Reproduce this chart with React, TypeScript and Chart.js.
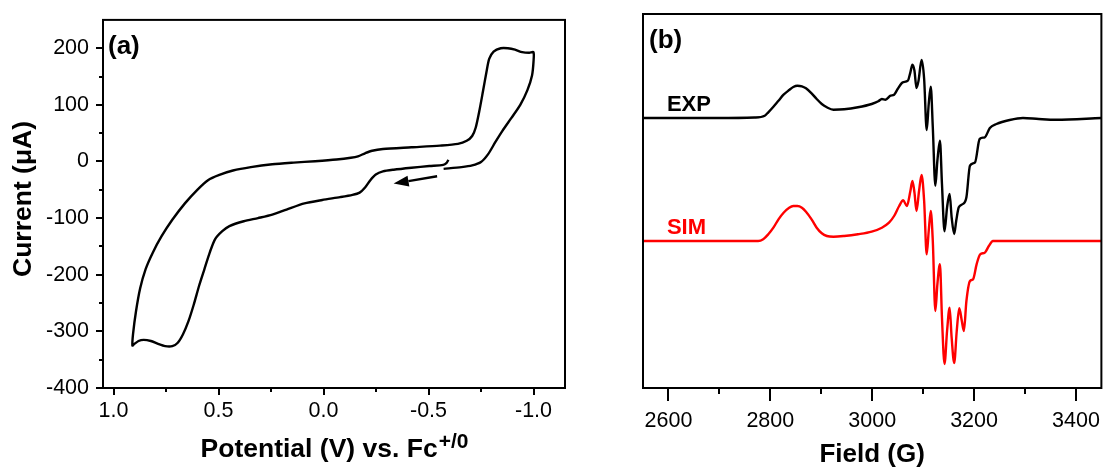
import React, { useEffect, useRef } from "react";
import { Chart, registerables } from "chart.js";

Chart.register(...registerables);

// ---------- Panel (a): cyclic voltammogram ----------
const CV_POTENTIAL = [
  -0.595, -0.585, -0.57, -0.504, -0.419, -0.334, -0.283, -0.249, -0.223, -0.198,
  -0.172, -0.138, -0.079, 0.006, 0.091, 0.176, 0.244, 0.312, 0.38, 0.448,
  0.482, 0.516, 0.541, 0.567, 0.592, 0.618, 0.643, 0.669, 0.694, 0.72,
  0.754, 0.788, 0.822, 0.856, 0.881, 0.903, 0.91,
  0.907, 0.893, 0.873, 0.847, 0.813, 0.771, 0.72, 0.66, 0.601, 0.55,
  0.499, 0.431, 0.346, 0.244, 0.142, 0.04, -0.062, -0.13, -0.164, -0.198,
  -0.232, -0.283, -0.419, -0.555, -0.64, -0.682, -0.708, -0.725, -0.742, -0.759,
  -0.776, -0.789, -0.81, -0.844, -0.878, -0.912, -0.946, -0.98, -1.0,
  -1.0, -0.993, -0.971, -0.937, -0.895, -0.852, -0.818, -0.784, -0.75, -0.708,
  -0.657, -0.572,
];
const CV_CURRENT = [
  3, -3, -6, -8, -11, -14.5, -17.5, -23, -33, -46,
  -55, -59, -63, -68, -74, -85, -94, -100, -105.5, -114,
  -123, -137, -160, -190, -219, -253, -282, -305, -320, -326,
  -326, -322, -317, -315, -317, -323, -325,
  -305, -265, -224, -190, -161, -132, -103, -74, -50, -33,
  -24, -16, -10, -5, -2, 0.5, 3.5, 6.5, 9, 14.5,
  19, 22, 25, 28, 31, 36.5, 45, 60, 89, 123,
  158, 181, 194, 200, 200, 197.5, 193, 192, 193,
  176, 152, 126, 100, 77, 54, 34, 13, -1, -7,
  -10, -13,
];
const CV_MINOR_X = [0.75, 0.25, -0.25, -0.75];
const CV_MINOR_Y = [150, 50, -50, -150, -250, -350];
const CV_ARROW_FROM = { x: -0.541, y: -26 };
const CV_ARROW_TO = { x: -0.334, y: -39 };
const CV_Y_TITLE = "Current (μA)";
const CV_X_TITLE = "Potential (V) vs. Fc";
const CV_X_TITLE_SUP = "+/0";

// ---------- Panel (b): EPR spectra ----------
const FIELD_EXP = [
  2550, 2695, 2769, 2789, 2796, 2806, 2816, 2826, 2837, 2845,
  2853, 2862, 2870, 2881, 2891, 2901, 2911, 2924, 2945, 2972,
  2999, 3012, 3019, 3026, 3036, 3043, 3050, 3060, 3070, 3075,
  3079, 3083, 3087, 3091, 3097, 3102, 3107, 3111, 3115, 3119,
  3124, 3128, 3133, 3137, 3142, 3147, 3152, 3156, 3161, 3165,
  3170, 3178, 3185, 3192, 3202, 3211, 3221, 3231, 3244, 3270,
  3296, 3327, 3361, 3450,
];
const INT_EXP = [
  0, 0, 0.5, 2.3, 5.7, 11.3, 17.3, 23.3, 28, 31,
  32.3, 31.7, 29.7, 24.7, 19, 14, 10.7, 8.3, 8.7, 10.7,
  14, 16.7, 19, 18.3, 22.3, 23.3, 29, 35.7, 37.3, 45.7,
  53.3, 47.3, 30, 37.3, 58, 39, -12, 14, 31.3, -9.3,
  -67.7, -42.7, -22.7, -66, -113.3, -89.3, -76, -99.3, -116, -102.7,
  -89.3, -86, -79.3, -47.7, -44.3, -21, -19.3, -10, -6, -2,
  0, -1, -1.7, 0,
];
const FIELD_SIM = [
  2550, 2776, 2786, 2796, 2806, 2816, 2826, 2837, 2845, 2853,
  2862, 2870, 2881, 2891, 2901, 2911, 2924, 2945, 2972, 2999,
  3019, 3033, 3043, 3053, 3061, 3068, 3075, 3079, 3083, 3087,
  3092, 3097, 3102, 3107, 3111, 3115, 3119, 3124, 3128, 3133,
  3137, 3142, 3147, 3152, 3156, 3161, 3166, 3171, 3176, 3180,
  3185, 3192, 3198, 3205, 3212, 3221, 3229, 3237, 3450,
];
const INT_SIM = [
  0, 0, 1.7, 6.7, 13.3, 21.7, 28.3, 33.3, 35, 35,
  33.3, 29.3, 21.7, 13.3, 7.7, 5, 4.3, 5, 6.7, 9.3,
  13.3, 18.3, 25, 35, 40.7, 35, 50, 60, 48.3, 30,
  50, 66, 40, -13.3, 10, 30, 0, -70, -43.3, -23.3,
  -76.7, -123, -90, -66.7, -96.7, -122, -90, -67.3, -80, -90,
  -60, -40, -38.3, -23.3, -13.3, -11.7, -5, 0, 0,
];
const EXP_OFFSET = 270;
const SIM_OFFSET = 147;
const EPR_MINOR_X = [2700, 2900, 3100, 3300];
const SERIES_LABELS = ["EXP", "SIM"];
const LABEL_FIELD = 2597;

const FONT = '"Liberation Sans", Arial, sans-serif';
const LINE_W = 2.4;

function zip(xs: number[], ys: number[], off = 0) {
  const n = Math.min(xs.length, ys.length);
  const out: { x: number; y: number }[] = [];
  for (let i = 0; i < n; i++) out.push({ x: xs[i], y: ys[i] + off });
  return out;
}

function drawFrameAndMinor(chart: any, minorX: number[], minorY: number[], minorLen: number) {
  const { ctx, chartArea: a } = chart;
  const sx = chart.scales.x;
  const sy = chart.scales.y;
  ctx.save();
  ctx.strokeStyle = "#000";
  ctx.lineWidth = 2;
  ctx.strokeRect(a.left, a.top, a.right - a.left, a.bottom - a.top);
  ctx.beginPath();
  for (const v of minorX) {
    const px = Math.round(sx.getPixelForValue(v));
    ctx.moveTo(px, a.bottom);
    ctx.lineTo(px, a.bottom + minorLen);
  }
  for (const v of minorY) {
    const py = Math.round(sy.getPixelForValue(v));
    ctx.moveTo(a.left, py);
    ctx.lineTo(a.left - minorLen, py);
  }
  ctx.stroke();
  ctx.restore();
}

const cvPlugin = {
  id: "cvDecor",
  afterDraw(chart: any) {
    const { ctx, chartArea: a } = chart;
    const sx = chart.scales.x;
    const sy = chart.scales.y;
    drawFrameAndMinor(chart, CV_MINOR_X, CV_MINOR_Y, 4);
    ctx.save();
    // arrow
    const x1 = sx.getPixelForValue(CV_ARROW_FROM.x);
    const y1 = sy.getPixelForValue(CV_ARROW_FROM.y);
    const x2 = sx.getPixelForValue(CV_ARROW_TO.x);
    const y2 = sy.getPixelForValue(CV_ARROW_TO.y);
    const ang = Math.atan2(y2 - y1, x2 - x1);
    const hl = 15;
    const hw = 5.5;
    const bx = x2 - hl * Math.cos(ang);
    const by = y2 - hl * Math.sin(ang);
    ctx.strokeStyle = "#000";
    ctx.fillStyle = "#000";
    ctx.lineWidth = LINE_W;
    ctx.beginPath();
    ctx.moveTo(x1, y1);
    ctx.lineTo(bx, by);
    ctx.stroke();
    ctx.beginPath();
    ctx.moveTo(x2, y2);
    ctx.lineTo(bx + hw * Math.sin(ang), by - hw * Math.cos(ang));
    ctx.lineTo(bx - hw * Math.sin(ang), by + hw * Math.cos(ang));
    ctx.closePath();
    ctx.fill();
    // panel label
    ctx.font = `bold 26px ${FONT}`;
    ctx.textAlign = "left";
    ctx.textBaseline = "alphabetic";
    ctx.fillText("(a)", a.left + 5, a.top + 34);
    // x title with superscript
    ctx.font = `bold 26.5px ${FONT}`;
    const w1 = ctx.measureText(CV_X_TITLE).width;
    ctx.font = `bold 21px ${FONT}`;
    const w2 = ctx.measureText(CV_X_TITLE_SUP).width;
    const cx = (a.left + a.right) / 2;
    const x0 = cx - (w1 + w2) / 2;
    ctx.font = `bold 26.5px ${FONT}`;
    ctx.fillText(CV_X_TITLE, x0, chart.height - 15);
    ctx.font = `bold 21px ${FONT}`;
    ctx.fillText(CV_X_TITLE_SUP, x0 + w1 + 1, chart.height - 24);
    // y title (rotated)
    ctx.translate(24, (a.top + a.bottom) / 2 - 5);
    ctx.rotate(-Math.PI / 2);
    ctx.textAlign = "center";
    ctx.textBaseline = "middle";
    ctx.font = `bold 26.5px ${FONT}`;
    ctx.fillText(CV_Y_TITLE, 0, 0);
    ctx.restore();
  },
};

const eprPlugin = {
  id: "eprDecor",
  afterDraw(chart: any) {
    const { ctx, chartArea: a } = chart;
    const sx = chart.scales.x;
    const sy = chart.scales.y;
    drawFrameAndMinor(chart, EPR_MINOR_X, [], 6);
    ctx.save();
    ctx.textAlign = "left";
    ctx.textBaseline = "alphabetic";
    ctx.font = `bold 26px ${FONT}`;
    ctx.fillStyle = "#000";
    ctx.fillText("(b)", a.left + 6, a.top + 34);
    ctx.font = `bold 22px ${FONT}`;
    const lx = sx.getPixelForValue(LABEL_FIELD);
    ctx.fillStyle = "#000";
    ctx.fillText(SERIES_LABELS[0], lx, sy.getPixelForValue(EXP_OFFSET) - 7);
    ctx.fillStyle = "#ff0000";
    ctx.fillText(SERIES_LABELS[1], lx, sy.getPixelForValue(SIM_OFFSET) - 7);
    ctx.restore();
  },
};

function CVChart() {
  const ref = useRef<HTMLCanvasElement | null>(null);
  useEffect(() => {
    if (!ref.current) return;
    const chart = new Chart(ref.current, {
      type: "scatter",
      data: {
        datasets: [
          {
            data: zip(CV_POTENTIAL, CV_CURRENT),
            showLine: true,
            borderColor: "#000",
            borderWidth: LINE_W,
            pointRadius: 0,
            tension: 0.25,
            fill: false,
          },
        ],
      },
      options: {
        animation: false,
        responsive: false,
        events: [],
        layout: { padding: { left: 0, right: 35, top: 14, bottom: 0 } },
        plugins: { legend: { display: false }, tooltip: { enabled: false } },
        scales: {
          x: {
            type: "linear",
            reverse: true,
            min: -1.15,
            max: 1.05,
            afterFit: (s: any) => {
              s.height = 84;
            },
            border: { display: false },
            grid: {
              display: true,
              drawOnChartArea: false,
              drawTicks: true,
              tickLength: 7,
              lineWidth: 2,
              color: "#000",
            },
            ticks: {
              stepSize: 0.5,
              includeBounds: false,
              autoSkip: false,
              maxRotation: 0,
              padding: 3,
              color: "#000",
              font: { family: FONT, size: 21.5 },
              callback: (v: any) => Number(v).toFixed(1),
            },
          },
          y: {
            type: "linear",
            min: -400,
            max: 250,
            afterFit: (s: any) => {
              s.width = 103;
            },
            border: { display: false },
            grid: {
              display: true,
              drawOnChartArea: false,
              drawTicks: true,
              tickLength: 7,
              lineWidth: 2,
              color: "#000",
            },
            ticks: {
              stepSize: 100,
              includeBounds: false,
              padding: 7,
              color: "#000",
              font: { family: FONT, size: 21.5 },
              callback: (v: any) => String(v),
            },
          },
        },
      },
      plugins: [cvPlugin],
    } as any);
    return () => chart.destroy();
  }, []);
  return (
    <canvas
      ref={ref}
      width={600}
      height={472}
      style={{ position: "absolute", left: 0, top: 0 }}
    />
  );
}

function EPRChart() {
  const ref = useRef<HTMLCanvasElement | null>(null);
  useEffect(() => {
    if (!ref.current) return;
    const chart = new Chart(ref.current, {
      type: "scatter",
      data: {
        datasets: [
          {
            data: zip(FIELD_EXP, INT_EXP, EXP_OFFSET),
            showLine: true,
            borderColor: "#000",
            borderWidth: LINE_W,
            pointRadius: 0,
            cubicInterpolationMode: "monotone",
            fill: false,
          },
          {
            data: zip(FIELD_SIM, INT_SIM, SIM_OFFSET),
            showLine: true,
            borderColor: "#ff0000",
            borderWidth: LINE_W,
            pointRadius: 0,
            cubicInterpolationMode: "monotone",
            fill: false,
          },
        ],
      },
      options: {
        animation: false,
        responsive: false,
        events: [],
        layout: { padding: { left: 43, right: 3, top: 14, bottom: 0 } },
        plugins: { legend: { display: false }, tooltip: { enabled: false } },
        scales: {
          x: {
            type: "linear",
            min: 2550,
            max: 3450,
            afterFit: (s: any) => {
              s.height = 84;
            },
            border: { display: false },
            grid: {
              display: true,
              drawOnChartArea: false,
              drawTicks: true,
              tickLength: 13,
              lineWidth: 2,
              color: "#000",
            },
            ticks: {
              stepSize: 200,
              includeBounds: false,
              autoSkip: false,
              maxRotation: 0,
              padding: 7,
              color: "#000",
              font: { family: FONT, size: 21.5 },
              callback: (v: any) => String(v),
            },
            title: {
              display: true,
              text: "Field (G)",
              color: "#000",
              font: { family: FONT, size: 26, weight: "bold" },
              padding: { top: 0, bottom: 2 },
            },
          },
          y: {
            type: "linear",
            display: false,
            min: 0,
            max: 374,
          },
        },
      },
      plugins: [eprPlugin],
    } as any);
    return () => chart.destroy();
  }, []);
  return (
    <canvas
      ref={ref}
      width={507}
      height={472}
      style={{ position: "absolute", left: 600, top: 0 }}
    />
  );
}

export default function App() {
  return (
    <div
      style={{
        position: "absolute",
        left: 0,
        top: 0,
        width: 1107,
        height: 472,
        background: "#fff",
        overflow: "hidden",
      }}
    >
      <CVChart />
      <EPRChart />
    </div>
  );
}
